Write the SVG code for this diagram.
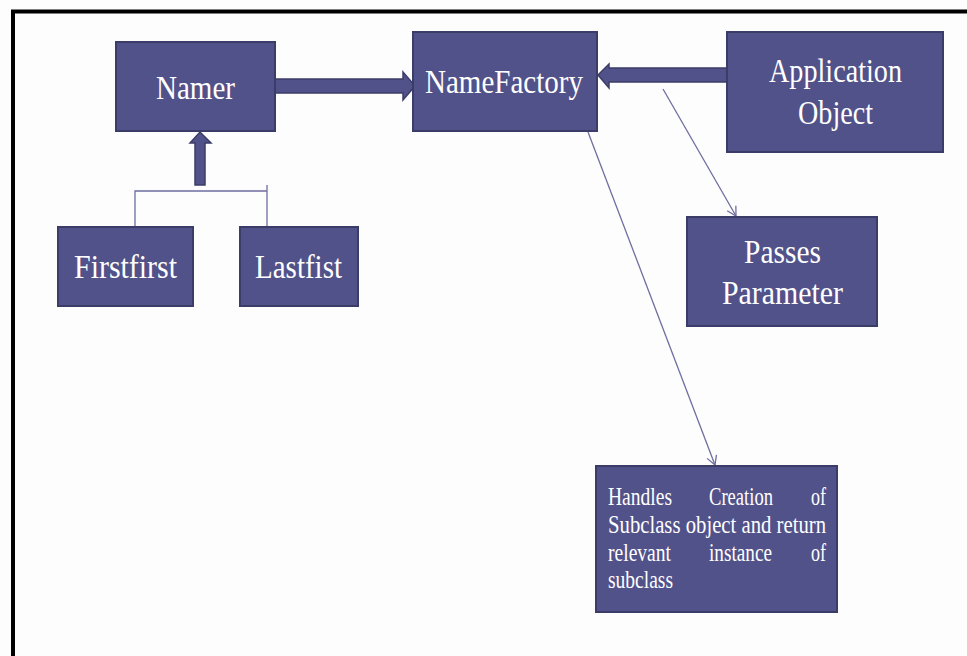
<svg xmlns="http://www.w3.org/2000/svg" width="967" height="656" viewBox="0 0 967 656">
<style>
.box{fill:#52528a;stroke:#3c3c68;stroke-width:2}
.t{font-family:"Liberation Serif","DejaVu Serif",serif;fill:#ffffff;font-size:34px}
.s{font-family:"Liberation Serif","DejaVu Serif",serif;fill:#ffffff;font-size:25px}
.thin{fill:none;stroke:#6e6ea0;stroke-width:1.3}
.blk{fill:#52528a;stroke:#3c3c68;stroke-width:1.5}
</style>
<defs>
<marker id="open" markerWidth="12" markerHeight="12" refX="10" refY="6" orient="auto" markerUnits="userSpaceOnUse">
<path d="M1,1 L10,6 L1,11" fill="none" stroke="#6e6ea0" stroke-width="1.3"/>
</marker>
</defs>
<rect x="0" y="0" width="967" height="656" fill="#fdfdfd"/>
<path d="M13,656 L13,11.5 L967,11.5" fill="none" stroke="#000" stroke-width="4"/>
<g id="connectors">
<path class="blk" d="M275,79 L403,79 L403,72 L415,86 L403,100 L403,93 L275,93 Z"/>
<path class="blk" d="M727,68 L609,68 L609,64 L598,75 L609,88 L609,82 L727,82 Z"/>
<path class="blk" d="M195,185 L195,143 L190,143 L200,132 L211,143 L205,143 L205,185 Z"/>
<path class="thin" d="M135,227 L135,191 L267,191 M267,185 L267,227"/>
<line class="thin" x1="663" y1="89" x2="736" y2="216" marker-end="url(#open)"/>
<line class="thin" x1="588" y1="132" x2="715" y2="465" marker-end="url(#open)"/>
</g>
<g id="namer">
<rect class="box" x="116" y="42" width="159" height="89"/>
<text class="t" x="156" y="99" textLength="79" lengthAdjust="spacingAndGlyphs">Namer</text>
</g>
<g id="namefactory">
<rect class="box" x="413" y="32" width="184" height="99"/>
<text class="t" x="425" y="93" textLength="158" lengthAdjust="spacingAndGlyphs">NameFactory</text>
</g>
<g id="application">
<rect class="box" x="727" y="32" width="216" height="120"/>
<text class="t" x="769" y="82" textLength="133" lengthAdjust="spacingAndGlyphs">Application</text>
<text class="t" x="798" y="124" textLength="75" lengthAdjust="spacingAndGlyphs">Object</text>
</g>
<g id="passes">
<rect class="box" x="687" y="217" width="190" height="109"/>
<text class="t" x="744" y="263" textLength="77" lengthAdjust="spacingAndGlyphs">Passes</text>
<text class="t" x="722" y="304" textLength="121" lengthAdjust="spacingAndGlyphs">Parameter</text>
</g>
<g id="firstfirst">
<rect class="box" x="58" y="227" width="135" height="79"/>
<text class="t" x="74" y="278" textLength="103" lengthAdjust="spacingAndGlyphs">Firstfirst</text>
</g>
<g id="lastfist">
<rect class="box" x="240" y="227" width="118" height="79"/>
<text class="t" x="255" y="278" textLength="87" lengthAdjust="spacingAndGlyphs">Lastfist</text>
</g>
<g id="handles">
<rect class="box" x="596" y="466" width="241" height="146"/>
<text class="s" x="608" y="505" textLength="64" lengthAdjust="spacingAndGlyphs">Handles</text>
<text class="s" x="709" y="505" textLength="64" lengthAdjust="spacingAndGlyphs">Creation</text>
<text class="s" x="811" y="505" textLength="15" lengthAdjust="spacingAndGlyphs">of</text>
<text class="s" x="608" y="533" textLength="218" lengthAdjust="spacingAndGlyphs">Subclass object and return</text>
<text class="s" x="608" y="561" textLength="63" lengthAdjust="spacingAndGlyphs">relevant</text>
<text class="s" x="709" y="561" textLength="63" lengthAdjust="spacingAndGlyphs">instance</text>
<text class="s" x="811" y="561" textLength="15" lengthAdjust="spacingAndGlyphs">of</text>
<text class="s" x="608" y="588" textLength="65" lengthAdjust="spacingAndGlyphs">subclass</text>
</g>
</svg>
